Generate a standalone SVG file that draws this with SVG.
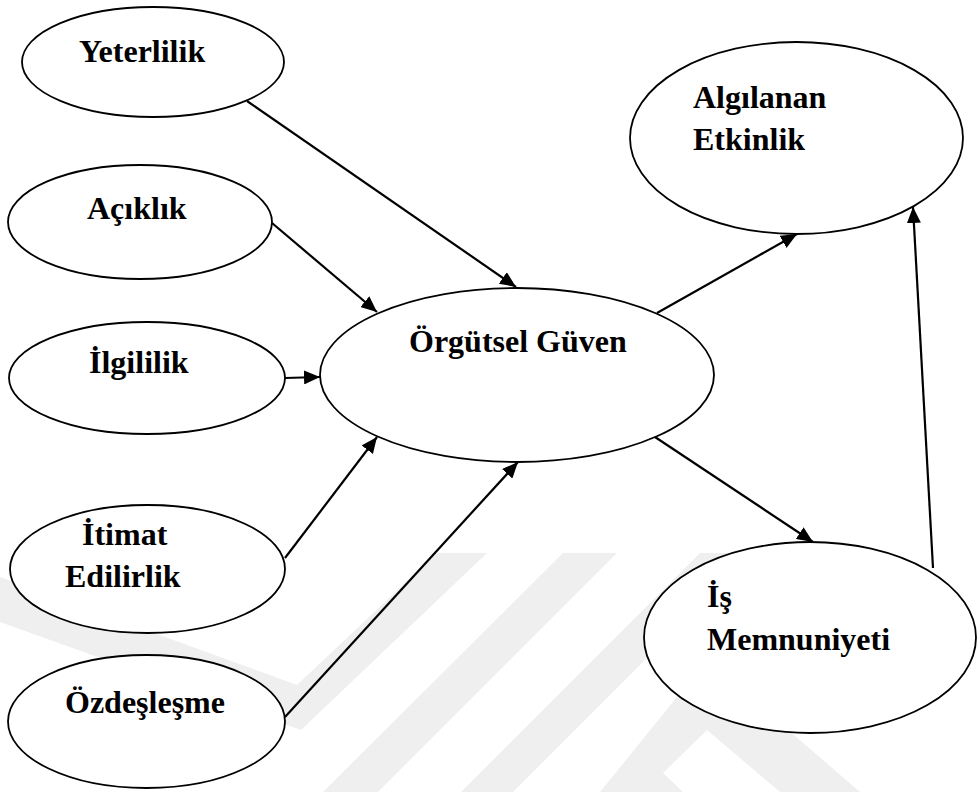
<svg xmlns="http://www.w3.org/2000/svg" width="977" height="792" viewBox="0 0 977 792">
<style>
.node ellipse{fill:#fff;stroke:#000;stroke-width:1.8}
.node text{font-family:"Liberation Serif","Times New Roman",serif;font-weight:bold;font-size:32px;fill:#000}
.edge{stroke:#000;stroke-width:2.2;fill:none;marker-end:url(#arr)}
.wm{fill:#efefef;stroke:none}
</style>
<defs>
<marker id="arr" markerUnits="userSpaceOnUse" markerWidth="16" markerHeight="14" refX="16" refY="7" orient="auto">
<path d="M0,0 L16,7 L0,14 z" fill="#000"/>
</marker>
</defs>
<rect width="977" height="792" fill="#fff"/>
<g id="watermark">
<polygon class="wm" points="0,577 297,685 437,553 487,553 301,730 0,622"/>
<polygon class="wm" points="563,553 617,553 378,792 323,792"/>
<polygon class="wm" points="700,553 752,553 513,792 461,792"/>
<polygon class="wm" points="600,792 707,660 860,792 780,792 707,730 663,773 683,792"/>
</g>
<g id="connectors">
<line class="edge" x1="247" y1="101" x2="516" y2="287"/>
<line class="edge" x1="272" y1="223" x2="377" y2="312"/>
<line class="edge" x1="285" y1="378" x2="320" y2="377"/>
<line class="edge" x1="285" y1="558" x2="377" y2="437"/>
<line class="edge" x1="285" y1="717" x2="518" y2="462"/>
<line class="edge" x1="657" y1="313" x2="797" y2="234"/>
<line class="edge" x1="655" y1="437" x2="813" y2="542"/>
<line class="edge" x1="933" y1="568" x2="913" y2="207"/>
</g>
<g id="yeterlilik" class="node"><ellipse cx="153" cy="62" rx="131" ry="55"/><text x="79" y="62">Yeterlilik</text></g>
<g id="aciklik" class="node"><ellipse cx="140" cy="222" rx="132" ry="57"/><text x="87" y="219">Açıklık</text></g>
<g id="ilgililik" class="node"><ellipse cx="147" cy="378" rx="138" ry="56"/><text x="89" y="373">İlgililik</text></g>
<g id="itimat" class="node"><ellipse cx="147.5" cy="569" rx="137.5" ry="64"/><text x="82" y="545">İtimat</text><text x="65" y="587">Edilirlik</text></g>
<g id="ozdeslesme" class="node"><ellipse cx="146.5" cy="721.5" rx="138.5" ry="66.5"/><text x="65" y="713">Özdeşleşme</text></g>
<g id="orgutsel" class="node"><ellipse cx="517" cy="375" rx="197" ry="87"/><text x="409" y="352">Örgütsel Güven</text></g>
<g id="algilanan" class="node"><ellipse cx="796.5" cy="138" rx="166.5" ry="96"/><text x="693" y="108">Algılanan</text><text x="693" y="150">Etkinlik</text></g>
<g id="is" class="node"><ellipse cx="810" cy="637.5" rx="166" ry="95.5"/><text x="707" y="607">İş</text><text x="707" y="650">Memnuniyeti</text></g>
</svg>
